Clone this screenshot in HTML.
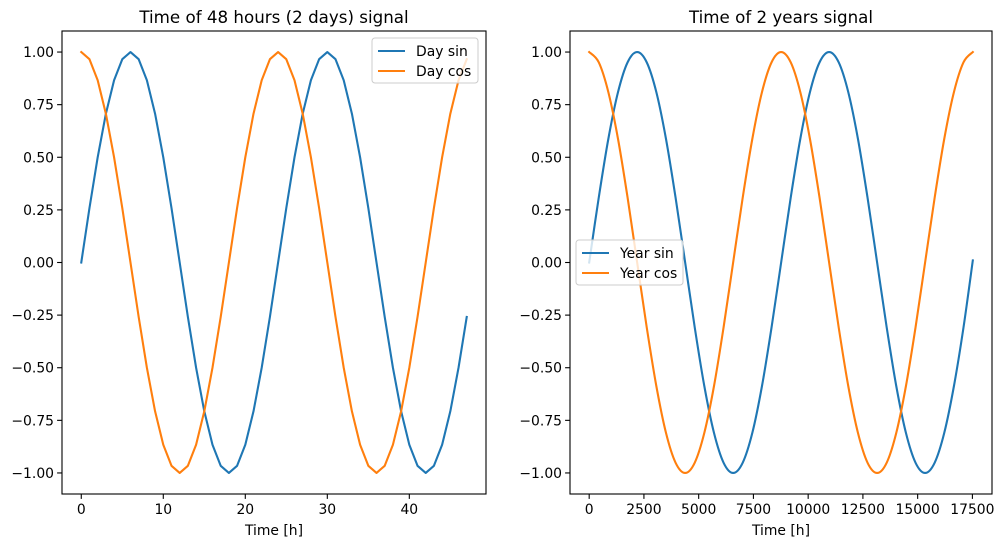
<!DOCTYPE html>
<html><head><meta charset="utf-8"><style>
html,body{margin:0;padding:0;background:#fff;}
svg{display:block;font-family:"DejaVu Sans","Liberation Sans",sans-serif;}
</style></head><body>
<svg id="fig" width="1004" height="547" viewBox="0 0 1004 547" xmlns="http://www.w3.org/2000/svg"></svg>
<script>
// ---- Data ----
const dayHours = [0,1,2,3,4,5,6,7,8,9,10,11,12,13,14,15,16,17,18,19,20,21,22,23,24,25,26,27,28,29,30,31,32,33,34,35,36,37,38,39,40,41,42,43,44,45,46,47];
const daySin = [0,0.259,0.5,0.707,0.866,0.966,1,0.966,0.866,0.707,0.5,0.259,0,-0.259,-0.5,-0.707,-0.866,-0.966,-1,-0.966,-0.866,-0.707,-0.5,-0.259,0,0.259,0.5,0.707,0.866,0.966,1,0.966,0.866,0.707,0.5,0.259,0,-0.259,-0.5,-0.707,-0.866,-0.966,-1,-0.966,-0.866,-0.707,-0.5,-0.259];
const dayCos = [1,0.966,0.866,0.707,0.5,0.259,0,-0.259,-0.5,-0.707,-0.866,-0.966,-1,-0.966,-0.866,-0.707,-0.5,-0.259,0,0.259,0.5,0.707,0.866,0.966,1,0.966,0.866,0.707,0.5,0.259,0,-0.259,-0.5,-0.707,-0.866,-0.966,-1,-0.966,-0.866,-0.707,-0.5,-0.259,0,0.259,0.5,0.707,0.866,0.966];
const yearHours = [0,438,876,1315,1753,2191,2629,3068,3506,3944,4383,4821,5259,5698,6136,6574,7012,7451,7889,8327,8766,9204,9642,10080,10519,10957,11395,11833,12272,12710,13149,13587,14025,14463,14902,15340,15778,16216,16655,17093,17519];
const yearSin = [0,0.309,0.588,0.809,0.951,1,0.951,0.809,0.588,0.309,0,-0.309,-0.588,-0.809,-0.951,-1,-0.951,-0.809,-0.588,-0.309,0,0.309,0.588,0.809,0.951,1,0.951,0.809,0.588,0.309,0,-0.309,-0.588,-0.809,-0.951,-1,-0.951,-0.809,-0.588,-0.309,0.01];
const yearCos = [1,0.951,0.809,0.588,0.309,0,-0.309,-0.588,-0.809,-0.951,-1,-0.951,-0.809,-0.588,-0.309,0,0.309,0.588,0.809,0.951,1,0.951,0.809,0.588,0.309,0,-0.309,-0.588,-0.809,-0.951,-1,-0.951,-0.809,-0.588,-0.309,0,0.309,0.588,0.809,0.951,1];
const yTicks = [-1,-0.75,-0.5,-0.25,0,0.25,0.5,0.75,1];
const yTickLabels = ["−1.00","−0.75","−0.50","−0.25","0.00","0.25","0.50","0.75","1.00"];
const dayXTicks = [0,10,20,30,40];
const yearXTicks = [0,2500,5000,7500,10000,12500,15000,17500];

const NS="http://www.w3.org/2000/svg";
const svg=document.getElementById('fig');
function mk(tag,attrs,parent,text){const e=document.createElementNS(NS,tag);for(const k in attrs)e.setAttribute(k,attrs[k]);if(text!==undefined)e.textContent=text;(parent||svg).appendChild(e);return e;}

function panel(cfg){
  const g=mk('g',{});
  
  
  const L=cfg.left,R=cfg.right,T=31,B=494;
  const xmin=cfg.xmin,xmax=cfg.xmax;
  const sx=v=>L+(v-xmin)/(xmax-xmin)*(R-L);
  const sy=v=>T+(1.1-v)/2.2*(B-T);
  // series
  cfg.series.forEach(s=>{
    let d='';
    const xs=cfg.x, ys=s.y;
    if(cfg.smooth){
      const P=xs.map((x,i)=>[sx(x),sy(ys[i])]);
      d='M'+P[0][0].toFixed(2)+','+P[0][1].toFixed(2);
      for(let i=0;i<P.length-1;i++){
        const p0=P[Math.max(0,i-1)],p1=P[i],p2=P[i+1],p3=P[Math.min(P.length-1,i+2)];
        const c1=[p1[0]+(p2[0]-p0[0])/6,p1[1]+(p2[1]-p0[1])/6];
        const c2=[p2[0]-(p3[0]-p1[0])/6,p2[1]-(p3[1]-p1[1])/6];
        d+=' C'+c1[0].toFixed(2)+','+c1[1].toFixed(2)+' '+c2[0].toFixed(2)+','+c2[1].toFixed(2)+' '+p2[0].toFixed(2)+','+p2[1].toFixed(2);
      }
    } else {
      d=xs.map((x,i)=>(i?'L':'M')+sx(x).toFixed(2)+','+sy(ys[i]).toFixed(2)).join(' ');
    }
    const p=mk('path',{d:d,fill:'none',stroke:s.color,'stroke-width':2.1,'stroke-linejoin':'round','stroke-linecap':'square'},g);
    
    
  });
  // frame
  const fr=mk('rect',{x:L,y:T,width:R-L,height:B-T,fill:'none',stroke:'#000','stroke-width':1.1},g);
  
  
  // y ticks
  yTicks.forEach((v,i)=>{
    const y=sy(v);
    mk('line',{x1:L-4.9,x2:L,y1:y,y2:y,stroke:'#000','stroke-width':1.1},g);
    const t=mk('text',{x:L-8,y:y+5,'text-anchor':'end','font-size':13.9,fill:'#000'},g,yTickLabels[i]);
    
    
  });
  cfg.xticks.forEach(v=>{
    const x=sx(v);
    mk('line',{x1:x,x2:x,y1:B,y2:B+4.9,stroke:'#000','stroke-width':1.1},g);
    const t=mk('text',{x:x,y:B+20,'text-anchor':'middle','font-size':13.9,fill:'#000'},g,String(v));
    
    
  });
  const xt=mk('text',{x:(L+R)/2,y:535,'text-anchor':'middle','font-size':13.9,fill:'#000'},g,'Time [h]');
  
  
  const tt=mk('text',{x:(L+R)/2,y:23,'text-anchor':'middle','font-size':16.7,fill:'#000'},g,cfg.title);
  
  
  // legend
  const lg=mk('g',{},g);
  
  
  const [lx,ly,lw]=cfg.legend;
  mk('rect',{x:lx,y:ly,width:lw,height:45,rx:3,fill:'#fff','fill-opacity':0.8,stroke:'#ccc','stroke-width':1},lg);
  cfg.series.forEach((s,i)=>{
    const yy=ly+13+i*20;
    const e=mk('g',{},lg);
    
    
    mk('line',{x1:lx+6,x2:lx+33,y1:yy,y2:yy,stroke:s.color,'stroke-width':2.1},e);
    mk('text',{x:lx+44,y:yy+5,'font-size':13.9,fill:'#000'},e,s.label);
  });
}
panel({name:'day-chart',left:62,right:486,xmin:-2.35,xmax:49.35,x:dayHours,smooth:false,xticks:dayXTicks,
  title:'Time of 48 hours (2 days) signal',legend:[372,38,106],
  series:[{id:'day-sin-line',label:'Day sin',y:daySin,color:'#1f77b4'},{id:'day-cos-line',label:'Day cos',y:dayCos,color:'#ff7f0e'}]});
panel({name:'year-chart',left:570,right:992,xmin:-876,xmax:18395,x:yearHours,smooth:true,xticks:yearXTicks,
  title:'Time of 2 years signal',legend:[576,240,107],
  series:[{id:'year-sin-line',label:'Year sin',y:yearSin,color:'#1f77b4'},{id:'year-cos-line',label:'Year cos',y:yearCos,color:'#ff7f0e'}]});
</script>
</body></html>
